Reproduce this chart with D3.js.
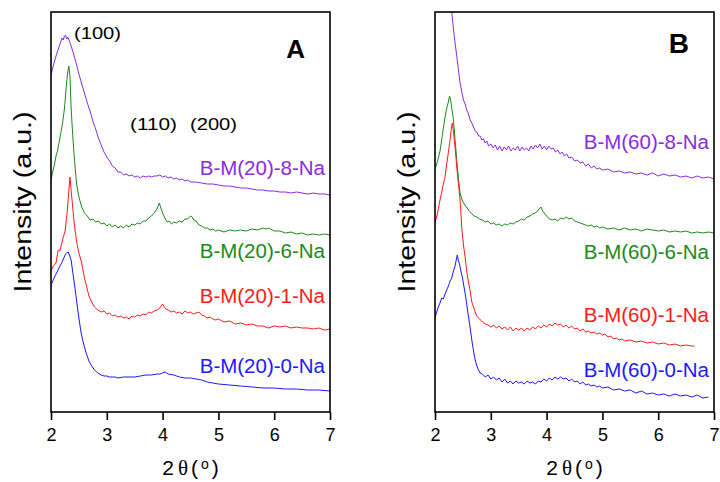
<!DOCTYPE html>
<html>
<head>
<meta charset="utf-8">
<script src="https://cdn.jsdelivr.net/npm/d3@7"></script>
<style>
  html, body { margin: 0; padding: 0; background: #fff; }
  svg { display: block; font-family: "Liberation Sans", Arial, sans-serif; }
</style>
</head>
<body>
<svg id="chart" width="720" height="482"></svg>
<script>
// XRD patterns, intensity in arbitrary units (stacked offsets already included)
const xTicks = [2, 3, 4, 5, 6, 7];

// Panel A: B-M(20) series
const aPurple = [[2.00,337],[2.03,344],[2.06,350],[2.09,356],[2.12,361],[2.15,366],[2.18,371],[2.20,374],[2.22,372],[2.24,376],[2.26,377],[2.28,373],[2.30,375],[2.33,371],[2.36,366],[2.40,359],[2.45,349],[2.50,338],[2.55,328],[2.60,319],[2.65,309],[2.70,301],[2.75,291],[2.80,283],[2.85,274],[2.90,267],[2.95,260],[3.00,255],[3.05,251],[3.10,246],[3.15,244],[3.20,240],[3.25,240],[3.30,237],[3.35,238],[3.40,236],[3.45,237],[3.50,235],[3.55,236],[3.60,234],[3.65,236],[3.70,235],[3.75,236],[3.80,235],[3.85,236],[3.90,236],[3.95,237],[4.00,235],[4.05,236],[4.10,234],[4.15,235],[4.20,233],[4.25,234],[4.30,232],[4.35,233],[4.40,231],[4.45,232],[4.50,230],[4.60,230],[4.70,229],[4.80,228],[4.90,228],[5.00,227],[5.10,226],[5.20,226],[5.30,225],[5.40,224],[5.50,224],[5.60,223],[5.70,222],[5.80,222],[5.90,221],[6.00,221],[6.10,220],[6.20,220],[6.30,219],[6.40,220],[6.50,219],[6.60,218],[6.70,219],[6.80,218],[6.90,218],[7.00,217]];
const aGreen = [[2.00,232],[2.03,240],[2.06,247],[2.09,256],[2.12,262],[2.15,271],[2.18,280],[2.21,290],[2.24,303],[2.26,316],[2.28,330],[2.30,340],[2.32,346],[2.34,335],[2.36,305],[2.38,285],[2.40,268],[2.43,246],[2.46,228],[2.50,215],[2.55,205],[2.60,199],[2.65,196],[2.70,192],[2.75,193],[2.80,190],[2.85,191],[2.90,188],[2.95,189],[3.00,186],[3.05,188],[3.10,185],[3.15,187],[3.20,184],[3.25,186],[3.30,184],[3.35,187],[3.40,185],[3.45,188],[3.50,187],[3.55,189],[3.60,188],[3.65,191],[3.70,191],[3.75,194],[3.80,196],[3.85,199],[3.90,203],[3.94,209],[3.97,204],[4.00,199],[4.04,194],[4.08,190],[4.12,191],[4.16,188],[4.20,190],[4.25,189],[4.30,191],[4.35,190],[4.40,193],[4.45,193],[4.50,196],[4.53,195],[4.56,192],[4.60,191],[4.65,187],[4.70,186],[4.75,184],[4.80,184],[4.85,182],[4.90,183],[4.95,181],[5.00,182],[5.10,180],[5.20,182],[5.30,181],[5.40,182],[5.50,181],[5.60,183],[5.70,182],[5.80,184],[5.85,183],[5.90,184],[6.00,181],[6.10,181],[6.20,179],[6.30,180],[6.40,178],[6.50,179],[6.60,177],[6.70,178],[6.80,177],[6.90,178],[7.00,177]];
const aRed = [[2.00,141],[2.03,145],[2.06,147],[2.09,149],[2.11,156],[2.13,162],[2.16,161],[2.19,168],[2.22,175],[2.25,180],[2.27,190],[2.29,200],[2.31,214],[2.33,229],[2.34,235],[2.36,222],[2.38,210],[2.41,192],[2.44,178],[2.47,167],[2.50,159],[2.55,149],[2.60,134],[2.64,125],[2.68,116],[2.73,110],[2.78,105],[2.84,102],[2.90,100],[2.95,101],[3.00,98],[3.05,99],[3.10,96],[3.15,97],[3.20,95],[3.25,96],[3.30,94],[3.35,95],[3.40,93],[3.45,96],[3.50,95],[3.55,97],[3.60,96],[3.65,98],[3.70,97],[3.75,100],[3.80,99],[3.85,101],[3.90,102],[3.95,104],[4.00,108],[4.03,105],[4.06,103],[4.10,102],[4.15,100],[4.20,101],[4.25,99],[4.30,100],[4.35,98],[4.40,101],[4.45,99],[4.50,100],[4.55,98],[4.60,99],[4.65,100],[4.70,97],[4.75,96],[4.80,94],[4.85,95],[4.90,93],[4.95,92],[5.00,93],[5.10,90],[5.20,91],[5.30,88],[5.40,89],[5.50,87],[5.60,88],[5.70,86],[5.80,86],[5.90,84],[6.00,86],[6.10,85],[6.20,86],[6.30,84],[6.40,85],[6.50,84],[6.60,84],[6.70,83],[6.80,84],[6.90,82],[7.00,83]];
const aBlue = [[2.00,127],[2.04,132],[2.08,137],[2.12,141],[2.16,146],[2.20,150],[2.23,154],[2.26,158],[2.28,159],[2.31,160],[2.33,157],[2.36,152],[2.39,140],[2.42,128],[2.45,115],[2.48,102],[2.51,90],[2.54,79],[2.58,69],[2.63,59],[2.68,51],[2.73,46],[2.78,42],[2.84,39],[2.90,37],[2.95,36],[3.00,36],[3.05,35],[3.10,35],[3.15,35],[3.20,34],[3.30,35],[3.40,35],[3.50,35],[3.60,36],[3.70,37],[3.80,37],[3.90,38],[3.95,38],[4.00,39],[4.05,40],[4.10,38],[4.20,37],[4.30,35],[4.40,34],[4.50,34],[4.60,33],[4.70,32],[4.80,30],[4.90,29],[5.00,28],[5.20,27],[5.40,26],[5.60,25],[5.80,24],[6.00,24],[6.20,23],[6.40,23],[6.60,22],[6.80,22],[7.00,21]];

// Panel B: B-M(60) series
const bPurple = [[2.26,440],[2.30,400],[2.33,383],[2.36,369],[2.39,356],[2.42,342],[2.45,329],[2.48,320],[2.51,312],[2.54,308],[2.57,302],[2.60,298],[2.63,292],[2.66,289],[2.69,285],[2.72,281],[2.75,280],[2.78,276],[2.81,276],[2.84,272],[2.87,273],[2.90,269],[2.93,271],[2.96,266],[3.00,268],[3.04,264],[3.08,267],[3.12,262],[3.16,266],[3.20,261],[3.24,265],[3.28,262],[3.32,266],[3.36,261],[3.40,264],[3.44,262],[3.48,266],[3.52,261],[3.56,265],[3.60,262],[3.64,264],[3.68,261],[3.72,266],[3.76,263],[3.80,267],[3.84,264],[3.88,268],[3.92,263],[3.96,266],[4.00,262],[4.04,266],[4.08,263],[4.12,264],[4.16,260],[4.20,262],[4.24,258],[4.28,260],[4.32,256],[4.36,258],[4.40,254],[4.45,255],[4.50,251],[4.55,252],[4.60,249],[4.65,250],[4.70,246],[4.75,248],[4.80,244],[4.85,246],[4.90,243],[4.95,244],[5.00,242],[5.10,243],[5.20,240],[5.30,241],[5.40,239],[5.50,240],[5.60,238],[5.70,239],[5.80,237],[5.90,239],[6.00,236],[6.10,238],[6.20,236],[6.30,237],[6.40,235],[6.50,236],[6.60,234],[6.70,236],[6.80,234],[6.90,235],[7.00,233]];
const bGreen = [[2.00,243],[2.03,248],[2.06,254],[2.09,261],[2.12,272],[2.15,284],[2.18,295],[2.21,304],[2.24,310],[2.26,316],[2.28,312],[2.30,304],[2.33,293],[2.36,272],[2.39,252],[2.42,233],[2.45,219],[2.48,213],[2.51,209],[2.55,206],[2.60,202],[2.65,199],[2.70,196],[2.75,195],[2.80,193],[2.85,192],[2.90,190],[2.95,191],[3.00,188],[3.05,189],[3.10,187],[3.15,188],[3.20,186],[3.25,188],[3.30,187],[3.35,189],[3.40,188],[3.45,190],[3.50,191],[3.55,193],[3.60,192],[3.65,195],[3.70,196],[3.75,198],[3.80,199],[3.85,202],[3.90,205],[3.93,201],[3.97,198],[4.00,196],[4.05,193],[4.10,192],[4.15,193],[4.20,191],[4.25,194],[4.30,193],[4.35,195],[4.40,193],[4.45,194],[4.50,191],[4.55,190],[4.60,189],[4.65,188],[4.70,187],[4.75,186],[4.80,187],[4.85,185],[4.90,186],[4.95,184],[5.00,185],[5.10,183],[5.20,184],[5.30,182],[5.40,184],[5.50,182],[5.60,183],[5.70,181],[5.80,183],[5.90,182],[6.00,181],[6.10,182],[6.20,180],[6.30,181],[6.40,180],[6.50,181],[6.60,179],[6.70,180],[6.80,179],[6.90,180],[7.00,179]];
const bRed = [[2.00,190],[2.03,195],[2.06,203],[2.09,212],[2.12,220],[2.15,228],[2.18,235],[2.21,248],[2.24,260],[2.27,272],[2.29,282],[2.31,289],[2.33,281],[2.36,264],[2.39,245],[2.42,228],[2.45,212],[2.48,184],[2.51,167],[2.54,155],[2.57,140],[2.60,130],[2.63,121],[2.66,110],[2.69,105],[2.72,100],[2.75,96],[2.80,93],[2.85,90],[2.90,88],[2.95,87],[3.00,85],[3.05,87],[3.10,84],[3.15,86],[3.20,83],[3.25,85],[3.30,82],[3.35,85],[3.40,81],[3.45,84],[3.50,82],[3.55,84],[3.60,81],[3.65,84],[3.70,82],[3.75,85],[3.80,83],[3.85,86],[3.90,84],[3.95,87],[4.00,85],[4.05,88],[4.10,86],[4.15,89],[4.20,87],[4.25,88],[4.30,85],[4.35,87],[4.40,84],[4.45,86],[4.50,83],[4.55,84],[4.60,81],[4.65,83],[4.70,80],[4.75,81],[4.80,79],[4.85,80],[4.90,78],[4.95,79],[5.00,77],[5.05,78],[5.10,75],[5.15,76],[5.20,73],[5.25,74],[5.30,72],[5.35,73],[5.40,71],[5.50,72],[5.60,70],[5.70,71],[5.80,69],[5.90,70],[6.00,68],[6.10,69],[6.20,67],[6.30,68],[6.40,66],[6.50,67],[6.60,66],[6.65,66]];
const bBlue = [[2.00,94],[2.03,100],[2.06,105],[2.09,109],[2.12,114],[2.15,113],[2.18,118],[2.21,122],[2.24,126],[2.27,131],[2.30,134],[2.33,141],[2.36,146],[2.38,152],[2.40,157],[2.42,151],[2.44,148],[2.46,142],[2.49,135],[2.52,125],[2.55,115],[2.58,103],[2.61,92],[2.64,80],[2.67,68],[2.70,58],[2.72,52],[2.75,46],[2.78,42],[2.81,39],[2.85,38],[2.90,35],[2.95,37],[3.00,33],[3.05,35],[3.10,32],[3.15,34],[3.20,30],[3.25,33],[3.30,29],[3.35,31],[3.40,28],[3.45,31],[3.50,29],[3.55,30],[3.60,28],[3.65,31],[3.70,29],[3.75,30],[3.80,28],[3.85,31],[3.90,30],[3.95,33],[4.00,31],[4.05,34],[4.10,32],[4.15,35],[4.20,33],[4.25,35],[4.30,33],[4.35,34],[4.40,31],[4.45,33],[4.50,30],[4.55,31],[4.60,28],[4.65,30],[4.70,27],[4.75,28],[4.80,26],[4.85,27],[4.90,25],[4.95,26],[5.00,24],[5.10,25],[5.20,22],[5.30,23],[5.40,21],[5.50,22],[5.60,19],[5.70,21],[5.80,18],[5.90,19],[6.00,17],[6.10,18],[6.20,16],[6.30,18],[6.40,16],[6.50,17],[6.60,15],[6.70,17],[6.80,14],[6.90,15]];

const colors = { purple: "#8a2be2", green: "#1a8a1a", red: "#ff1a1a", blue: "#1a1aff" };

const panels = [
  {
    id: "A", left: 51, letter: "A",
    series: [
      { data: aPurple, color: colors.purple, label: "B-M(20)-8-Na", labelY: 175 },
      { data: aGreen,  color: colors.green,  label: "B-M(20)-6-Na", labelY: 258 },
      { data: aRed,    color: colors.red,    label: "B-M(20)-1-Na", labelY: 303 },
      { data: aBlue,   color: colors.blue,   label: "B-M(20)-0-Na", labelY: 373 }
    ],
    peaks: [ { text: "(100)", x: 74, y: 39 }, { text: "(110)", x: 130, y: 130 }, { text: "(200)", x: 190, y: 130 } ]
  },
  {
    id: "B", left: 435, letter: "B",
    series: [
      { data: bPurple, color: colors.purple, label: "B-M(60)-8-Na", labelY: 149 },
      { data: bGreen,  color: colors.green,  label: "B-M(60)-6-Na", labelY: 259 },
      { data: bRed,    color: colors.red,    label: "B-M(60)-1-Na", labelY: 322 },
      { data: bBlue,   color: colors.blue,   label: "B-M(60)-0-Na", labelY: 377 }
    ],
    peaks: []
  }
];

const svg = d3.select("#chart");
const plotTop = 12, plotBottom = 412, plotW = 279;

const y = d3.scaleLinear().domain([0, 400]).range([plotBottom, plotTop]);

panels.forEach(p => {
  const x = d3.scaleLinear().domain([2, 7]).range([p.left, p.left + plotW]);
  const g = svg.append("g");

  g.append("clipPath").attr("id", "clip" + p.id)
    .append("rect").attr("x", p.left).attr("y", plotTop)
    .attr("width", plotW).attr("height", plotBottom - plotTop);

  const line = d3.line().x(d => x(d[0])).y(d => y(d[1]));

  g.append("g").attr("clip-path", `url(#clip${p.id})`)
    .selectAll("path").data(p.series).join("path")
    .attr("d", s => line(s.data))
    .attr("fill", "none")
    .attr("stroke", s => s.color)
    .attr("stroke-width", 1);

  // frame
  g.append("rect").attr("x", p.left).attr("y", plotTop)
    .attr("width", plotW).attr("height", plotBottom - plotTop)
    .attr("fill", "none").attr("stroke", "#000").attr("stroke-width", 1.6);

  // bottom axis
  const ax = g.append("g").attr("transform", `translate(0,${plotBottom})`)
    .call(d3.axisBottom(x).tickValues(xTicks).tickFormat(d3.format("d"))
      .tickSize(8).tickSizeOuter(0).tickPadding(8));
  ax.select(".domain").remove();
  ax.selectAll(".tick line").attr("stroke", "#000").attr("stroke-width", 1.6);
  ax.selectAll(".tick text").attr("font-size", 18).attr("fill", "#000")
    .attr("font-family", "'Liberation Sans', Arial, sans-serif");

  // x title: 2θ(º)
  const xt = g.append("text")
    .attr("x", p.left + plotW / 2).attr("y", 475)
    .attr("text-anchor", "middle").attr("font-size", 21).attr("fill", "#000");
  xt.append("tspan").text("2");
  xt.append("tspan").attr("dx", 4).attr("font-family", "'Liberation Serif', serif").text("θ");
  xt.append("tspan").attr("dx", 3).text("(");
  xt.append("tspan").attr("dx", 3).attr("font-size", 14).attr("dy", -6).text("o");
  xt.append("tspan").attr("dx", 3).attr("dy", 6).text(")");

  // y title
  g.append("text")
    .attr("transform", `translate(${p.left - 20},202) rotate(-90)`)
    .attr("text-anchor", "middle").attr("font-size", 23).attr("fill", "#000")
    .attr("textLength", 181).attr("lengthAdjust", "spacingAndGlyphs")
    .text("Intensity (a.u.)");

  // panel letter
  g.append("text")
    .attr("x", p.left + plotW - 25).attr("y", p.id === "A" ? 58 : 53)
    .attr("text-anchor", "end").attr("font-size", p.id === "A" ? 26 : 28)
    .attr("font-weight", "bold").attr("fill", "#000").text(p.letter);

  // series labels
  g.selectAll("text.lbl").data(p.series).join("text").attr("class", "lbl")
    .attr("x", p.left + plotW - 5).attr("y", s => s.labelY)
    .attr("text-anchor", "end").attr("font-size", 20.5)
    .attr("fill", s => s.color).text(s => s.label);

  // reflection indices
  g.selectAll("text.hkl").data(p.peaks).join("text").attr("class", "hkl")
    .attr("x", d => d.x).attr("y", d => d.y)
    .attr("font-size", 17).attr("fill", "#000")
    .attr("textLength", 47).attr("lengthAdjust", "spacingAndGlyphs")
    .text(d => d.text);
});
</script>
</body>
</html>
